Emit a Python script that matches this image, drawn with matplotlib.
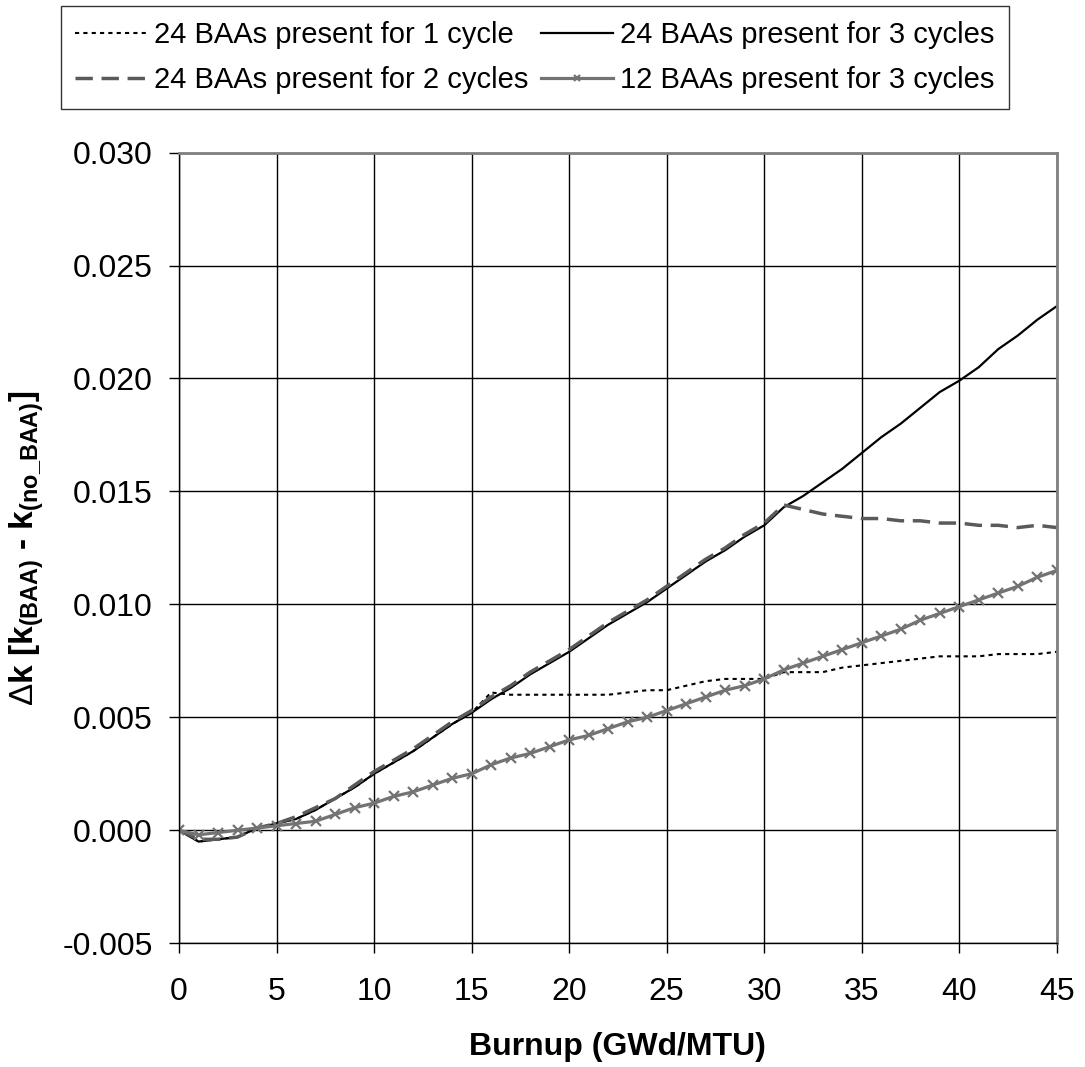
import matplotlib
matplotlib.use('Agg')
from matplotlib import pyplot as plt

plt.rcParams['font.family'] = ['Liberation Sans', 'DejaVu Sans']
plt.rcParams['mathtext.fontset'] = 'custom'
plt.rcParams['mathtext.rm'] = 'Liberation Sans'
plt.rcParams['mathtext.bf'] = 'Liberation Sans:bold'

burnup = list(range(0, 46))

baa24_3cyc = [0.0000, -0.0005, -0.0004, -0.0003, 0.0001, 0.0003, 0.0005, 0.0009, 0.0014, 0.0019,
              0.0025, 0.0030, 0.0035, 0.0041, 0.0047, 0.0052, 0.0058, 0.0063, 0.0069, 0.0074,
              0.0079, 0.0085, 0.0091, 0.0096, 0.0101, 0.0107, 0.0113, 0.0119, 0.0124, 0.0130,
              0.0135, 0.0143, 0.0148, 0.0154, 0.0160, 0.0167, 0.0174, 0.0180, 0.0187, 0.0194,
              0.0199, 0.0205, 0.0213, 0.0219, 0.0226, 0.0232]

baa24_2cyc = [0.0000, -0.0004, -0.0004, -0.0003, 0.0001, 0.0003, 0.0006, 0.0010, 0.0014, 0.0020,
              0.0026, 0.0031, 0.0036, 0.0042, 0.0048, 0.0053, 0.0059, 0.0064, 0.0070, 0.0075,
              0.0080, 0.0086, 0.0092, 0.0097, 0.0102, 0.0108, 0.0114, 0.0120, 0.0125, 0.0131,
              0.0136, 0.0144, 0.0142, 0.0140, 0.0139, 0.0138, 0.0138, 0.0137, 0.0137, 0.0136,
              0.0136, 0.0135, 0.0135, 0.0134, 0.0135, 0.0134]

baa24_1cyc = [0.0000, -0.0005, -0.0004, -0.0003, 0.0001, 0.0003, 0.0005, 0.0009, 0.0014, 0.0019,
              0.0025, 0.0030, 0.0035, 0.0041, 0.0047, 0.0052, 0.0061, 0.0060, 0.0060, 0.0060,
              0.0060, 0.0060, 0.0060, 0.0061, 0.0062, 0.0062, 0.0064, 0.0066, 0.0067, 0.0067,
              0.0067, 0.0070, 0.0070, 0.0070, 0.0072, 0.0073, 0.0074, 0.0075, 0.0076, 0.0077,
              0.0077, 0.0077, 0.0078, 0.0078, 0.0078, 0.0079]

baa12_3cyc = [0.0000, -0.0002, -0.0001, 0.0000, 0.0001, 0.0002, 0.0003, 0.0004, 0.0007, 0.0010,
              0.0012, 0.0015, 0.0017, 0.0020, 0.0023, 0.0025, 0.0029, 0.0032, 0.0034, 0.0037,
              0.0040, 0.0042, 0.0045, 0.0048, 0.0050, 0.0053, 0.0056, 0.0059, 0.0062, 0.0064,
              0.0067, 0.0071, 0.0074, 0.0077, 0.0080, 0.0083, 0.0086, 0.0089, 0.0093, 0.0096,
              0.0099, 0.0102, 0.0105, 0.0108, 0.0112, 0.0115]

labels = ['24 BAAs present for 1 cycle',
          '24 BAAs present for 2 cycles',
          '24 BAAs present for 3 cycles',
          '12 BAAs present for 3 cycles']

x_ticks = [0, 5, 10, 15, 20, 25, 30, 35, 40, 45]
y_ticks = [-0.005, 0.000, 0.005, 0.010, 0.015, 0.020, 0.025, 0.030]

fig = plt.figure(figsize=(10.85, 10.67), dpi=100)
ax = fig.add_axes([0.165, 0.116, 0.809, 0.741])

ax.grid(True, color='black', linewidth=1.0)
ax.set_axisbelow(True)

h1, = ax.plot(burnup, baa24_1cyc, color='black', linewidth=1.5,
              linestyle=(0, (2, 2)), label=labels[0])
h3, = ax.plot(burnup, baa24_3cyc, color='black', linewidth=1.6,
              label=labels[2])
h2, = ax.plot(burnup, baa24_2cyc, color='#5a5a5a', linewidth=2.5,
              linestyle=(0, (5, 2.5)), label=labels[1])
h4, = ax.plot(burnup, baa12_3cyc, color='#737373', linewidth=2.3,
              marker='x', markersize=7, markeredgewidth=1.6, label=labels[3])

ax.set_xlim(0, 45)
ax.set_ylim(-0.005, 0.030)
ax.set_xticks(x_ticks)
ax.set_yticks(y_ticks)
ax.set_yticklabels(['%.3f' % v for v in y_ticks])
ax.tick_params(axis='both', direction='out', length=7, width=1,
               labelsize=23, colors='black')
ax.tick_params(axis='y', pad=12)
ax.tick_params(axis='x', pad=17)

for side in ['top', 'right']:
    ax.spines[side].set_color('#808080')
    ax.spines[side].set_linewidth(2)
for side in ['left', 'bottom']:
    ax.spines[side].set_color('black')
    ax.spines[side].set_linewidth(1)

ax.set_xlabel('Burnup (GWd/MTU)', fontsize=23, fontweight='bold', labelpad=18)
ax.set_ylabel(r'$\Delta$k [k$_{\mathbf{(BAA)}}$ - k$_{\mathbf{(no\_BAA)}}$]',
              fontsize=24, fontweight='bold', labelpad=12)

leg = fig.legend(handles=[h1, h2, h3, h4], labels=labels,
                 ncol=2, loc='center', bbox_to_anchor=(0.493, 0.946),
                 borderaxespad=0, fontsize=21, frameon=True,
                 fancybox=False, edgecolor='black', handlelength=2.45,
                 handletextpad=0.25, columnspacing=0.45, labelspacing=0.6,
                 borderpad=0.5)
leg.get_frame().set_linewidth(1.0)
for hl in leg.legend_handles:
    hl.set_markersize(5)

plt.savefig('out.png', dpi=100)
